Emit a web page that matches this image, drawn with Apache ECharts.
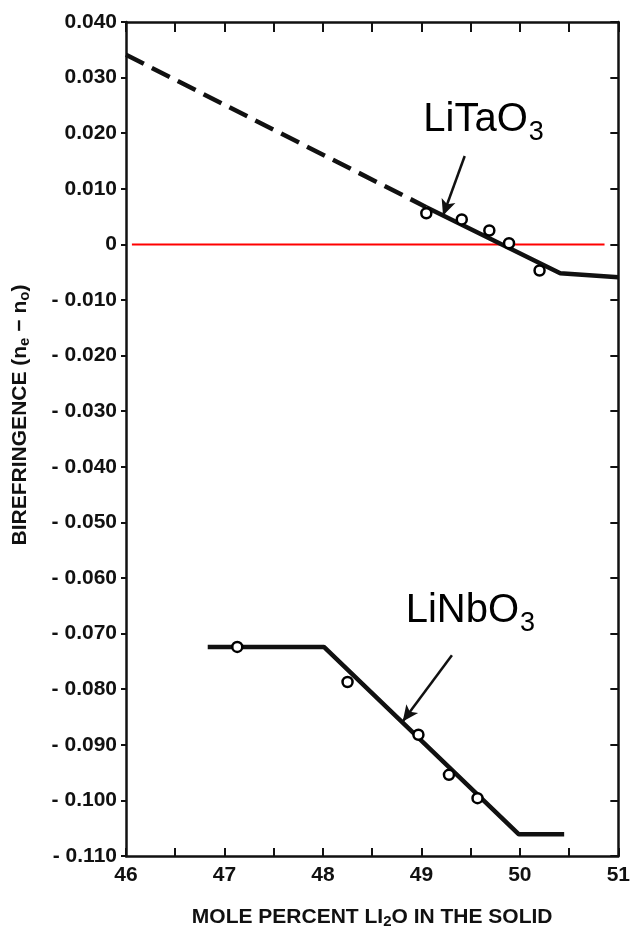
<!DOCTYPE html>
<html>
<head>
<meta charset="utf-8">
<script src="https://cdn.jsdelivr.net/npm/echarts@6/dist/echarts.min.js"></script>
<style>
html,body{margin:0;padding:0;background:#fff;}
#c{width:633px;height:935px;}
</style>
</head>
<body>
<div id="c"></div>
<script>
// ---- data ----
const xTickLabels = [46, 47, 48, 49, 50, 51];
const litaoDashed = [[46, 0.0341], [49.05, 0.0067]];
const litaoSolid = [[49.05, 0.0067], [50.41, -0.0052], [51, -0.0059]];
const litaoPoints = [[49.05, 0.0056], [49.41, 0.0045], [49.69, 0.0025], [49.89, 0.0002], [50.20, -0.0047]];
const linboLine = [[46.83, -0.0724], [48.01, -0.0724], [49.99, -0.1061], [50.45, -0.1061]];
const linboPoints = [[47.13, -0.0724], [48.25, -0.0787], [48.97, -0.0882], [49.28, -0.0954], [49.57, -0.0996]];
const zeroLine = [[46.06, 0], [50.86, 0]];
const litaoArrow = [[49.44, 0.0159], [49.22, 0.0052]];
const linboArrow = [[49.31, -0.0739], [48.81, -0.0858]];
const labelTexts = [
  { main: 'LiTaO', sub: '3', at: [49.02, 0.0201] },
  { main: 'LiNbO', sub: '3', at: [48.84, -0.0682] }
];
const xTitle = 'MOLE PERCENT LI{s|2}O IN THE SOLID';
const yTitle = 'BIREFRINGENCE (n{s|e} − n{s|o})';

const INK = '#111';
const tickFont = { fontFamily: 'Liberation Sans, Arial, sans-serif', fontWeight: 'bold', fontSize: 21, color: INK };

const chart = echarts.init(document.getElementById('c'), null, { renderer: 'canvas' });

function fmtY(v) {
  const r = Math.round(v * 1000) / 1000;
  if (Math.abs(r) < 1e-9) return '0';
  if (r < 0) return '- ' + (-r).toFixed(3);
  return r.toFixed(3);
}

const option = {
  animation: false,
  backgroundColor: '#fff',
  grid: { left: 126, right: 6, top: 22, bottom: 79, containLabel: false },
  xAxis: [
    {
      type: 'value', position: 'bottom', min: 46, max: 51, interval: 1,
      axisLine: { show: true, onZero: false, lineStyle: { color: INK, width: 2.5 } },
      axisTick: { show: true, inside: true, length: 8, lineStyle: { color: INK, width: 2 } },
      minorTick: { show: true, splitNumber: 2, length: 8, lineStyle: { color: INK, width: 2 } },
      splitLine: { show: false },
      axisLabel: Object.assign({ margin: 9, formatter: v => (xTickLabels.indexOf(Math.round(v)) >= 0 ? String(Math.round(v)) : '') }, tickFont),
      name: xTitle, nameLocation: 'middle', nameGap: 50,
      nameTextStyle: {
        fontFamily: 'Liberation Sans, Arial, sans-serif', fontWeight: 'bold', fontSize: 21, color: INK,
        rich: { s: { fontFamily: 'Liberation Sans, Arial, sans-serif', fontWeight: 'bold', fontSize: 15, color: INK, padding: [8, 0, 0, 0] } }
      }
    },
    {
      type: 'value', position: 'top', min: 46, max: 51, interval: 0.5,
      axisLine: { show: true, onZero: false, lineStyle: { color: INK, width: 2.5 } },
      axisTick: { show: true, inside: true, length: 10, lineStyle: { color: INK, width: 2 } },
      splitLine: { show: false },
      axisLabel: { show: false }
    }
  ],
  yAxis: [
    {
      type: 'value', position: 'left', min: -0.11, max: 0.04, interval: 0.01,
      axisLine: { show: true, onZero: false, lineStyle: { color: INK, width: 2.5 } },
      axisTick: { show: true, inside: false, length: 5, lineStyle: { color: INK, width: 2 } },
      splitLine: { show: false },
      axisLabel: Object.assign({ margin: 9, formatter: fmtY }, tickFont),
      name: yTitle, nameLocation: 'middle', nameGap: 94, nameRotate: 90,
      nameTextStyle: {
        fontFamily: 'Liberation Sans, Arial, sans-serif', fontWeight: 'bold', fontSize: 21, color: INK,
        padding: [0, 0, 0, 48],
        rich: { s: { fontFamily: 'Liberation Sans, Arial, sans-serif', fontWeight: 'bold', fontSize: 15, color: INK, padding: [8, 0, 0, 0] } }
      }
    },
    {
      type: 'value', position: 'right', min: -0.11, max: 0.04, interval: 0.01,
      axisLine: { show: true, onZero: false, lineStyle: { color: INK, width: 2.5 } },
      axisTick: { show: true, inside: true, length: 8, lineStyle: { color: INK, width: 2 } },
      splitLine: { show: false },
      axisLabel: { show: false }
    }
  ],
  series: [
    {
      name: 'zero', type: 'line', data: zeroLine, showSymbol: false, symbol: 'none',
      lineStyle: { color: '#ff0000', width: 2 }, z: 2, silent: true
    },
    {
      name: 'LiTaO3 dashed', type: 'line', data: litaoDashed, symbol: 'none',
      lineStyle: { color: INK, width: 4.5, type: [20, 9] }, z: 3,
      markLine: {
        silent: true, symbol: ['none', 'arrow'], symbolSize: [11, 16],
        label: { show: false },
        lineStyle: { color: INK, width: 2.5, type: 'solid' },
        data: [[{ coord: litaoArrow[0] }, { coord: litaoArrow[1] }]]
      }
    },
    {
      name: 'LiTaO3', type: 'line', data: litaoSolid, symbol: 'none',
      lineStyle: { color: INK, width: 4.5 }, z: 3
    },
    {
      name: 'LiNbO3', type: 'line', data: linboLine, symbol: 'none',
      lineStyle: { color: INK, width: 4.5 }, z: 3,
      markLine: {
        silent: true, symbol: ['none', 'arrow'], symbolSize: [11, 16],
        label: { show: false },
        lineStyle: { color: INK, width: 2.5, type: 'solid' },
        data: [[{ coord: linboArrow[0] }, { coord: linboArrow[1] }]]
      }
    },
    {
      name: 'LiTaO3 pts', type: 'scatter', data: litaoPoints, symbol: 'circle', symbolSize: 10,
      itemStyle: { color: '#fff', borderColor: '#000', borderWidth: 2.5, opacity: 1 }, z: 5
    },
    {
      name: 'LiNbO3 pts', type: 'scatter', data: linboPoints, symbol: 'circle', symbolSize: 10,
      itemStyle: { color: '#fff', borderColor: '#000', borderWidth: 2.5, opacity: 1 }, z: 5
    }
  ]
};

chart.setOption(option);

// formula labels placed at data coordinates
const ctx = document.createElement('canvas').getContext('2d');
const MAIN = 40, SUB = 27;
const fam = 'Liberation Sans, Arial, sans-serif';
ctx.font = MAIN + 'px ' + fam;
const graphics = [];
labelTexts.forEach(function (l) {
  const p = chart.convertToPixel({ xAxisIndex: 0, yAxisIndex: 0 }, l.at);
  const w = ctx.measureText(l.main).width;
  graphics.push({
    type: 'text', x: p[0], y: p[1] - 0.31 * MAIN, z: 10,
    style: { text: l.main, fontSize: MAIN, fontFamily: fam, fill: '#000', align: 'left', verticalAlign: 'middle' }
  });
  graphics.push({
    type: 'text', x: p[0] + w + 1, y: p[1] + 8 - 0.31 * SUB, z: 10,
    style: { text: l.sub, fontSize: SUB, fontFamily: fam, fill: '#000', align: 'left', verticalAlign: 'middle' }
  });
});
chart.setOption({ graphic: graphics });
</script>
</body>
</html>
